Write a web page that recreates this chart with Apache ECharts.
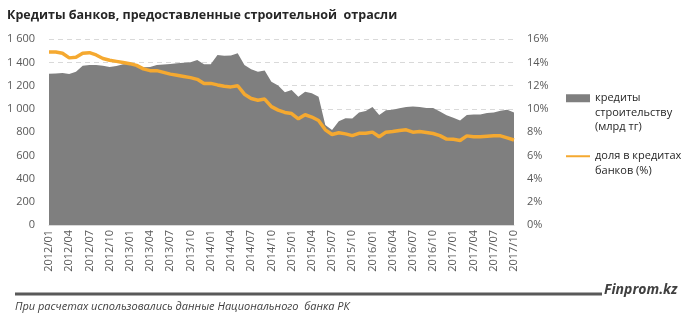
<!DOCTYPE html>
<html><head><meta charset="utf-8">
<script src="https://cdn.jsdelivr.net/npm/echarts@6/dist/echarts.min.js"></script>
<style>html,body{margin:0;padding:0;background:#fff}#c{width:685px;height:322px}</style>
</head><body><div id="c"></div>
<script>
var months = ["2012/01","2012/02","2012/03","2012/04","2012/05","2012/06","2012/07","2012/08","2012/09","2012/10","2012/11","2012/12",
"2013/01","2013/02","2013/03","2013/04","2013/05","2013/06","2013/07","2013/08","2013/09","2013/10","2013/11","2013/12",
"2014/01","2014/02","2014/03","2014/04","2014/05","2014/06","2014/07","2014/08","2014/09","2014/10","2014/11","2014/12",
"2015/01","2015/02","2015/03","2015/04","2015/05","2015/06","2015/07","2015/08","2015/09","2015/10","2015/11","2015/12",
"2016/01","2016/02","2016/03","2016/04","2016/05","2016/06","2016/07","2016/08","2016/09","2016/10","2016/11","2016/12",
"2017/01","2017/02","2017/03","2017/04","2017/05","2017/06","2017/07","2017/08","2017/09","2017/10"];
var credits = [1303,1306,1310,1300,1320,1372,1378,1378,1372,1362,1370,1385,
1388,1372,1360,1362,1378,1383,1387,1393,1399,1402,1422,1384,
1384,1464,1459,1460,1479,1378,1341,1321,1332,1234,1203,1143,
1163,1105,1148,1136,1105,861,818,894,919,917,970,982,
1016,947,989,994,1005,1016,1022,1017,1008,1008,978,946,
924,901,948,951,952,965,970,985,992,970];
var share = [14.9,14.9,14.8,14.4,14.45,14.8,14.85,14.65,14.35,14.2,14.1,14.0,
13.9,13.75,13.45,13.3,13.3,13.15,13.0,12.9,12.8,12.7,12.55,12.2,
12.2,12.07,11.95,11.9,12.0,11.27,10.9,10.75,10.85,10.2,9.9,9.7,
9.6,9.15,9.5,9.3,9.0,8.2,7.8,7.95,7.85,7.7,7.9,7.9,
8.0,7.6,8.0,8.05,8.15,8.2,8.0,8.05,7.97,7.88,7.7,7.4,
7.38,7.28,7.68,7.6,7.6,7.65,7.7,7.68,7.5,7.32];
var leftTicks = [0,1600,200];
var rightTicks = [0,16,2];
var nameCredits = "кредиты\nстроительству\n(млрд тг)";
var nameShare = "доля в кредитах\nбанков (%)";
var titleText = "Кредиты банков, предоставленные строительной  отрасли";
var footText = "При расчетах использовались данные Национального  банка РК";
var brandText = "Finprom.kz";

var font = "'Open Sans', 'Noto Sans', sans-serif";
var chart = echarts.init(document.getElementById('c'), null, {renderer:'canvas'});
chart.setOption({
  animation:false,
  textStyle:{fontFamily:font},
  title:{text:titleText,left:2,top:4,textStyle:{fontSize:12.5,fontWeight:'bold',color:'#262626',fontFamily:font}},
  grid:{left:49,right:171,top:39.3,bottom:97,containLabel:false},
  legend:{
    orient:'vertical',left:560,top:57,itemWidth:24,itemHeight:8,itemGap:0,
    textStyle:{fontSize:11,color:'#262626',lineHeight:14.5,fontFamily:font},
    formatter:function(n){ return n===nameCredits ? "\n\n"+n : "\n"+n; },
    data:[{name:nameCredits,icon:'rect'},{name:nameShare,itemStyle:{opacity:0}}]
  },
  xAxis:{type:'category',data:months,boundaryGap:false,
    axisLine:{lineStyle:{color:'#d9d9d9'}},axisTick:{show:false},
    axisLabel:{interval:2,rotate:90,fontSize:11,color:'#595959',margin:5}},
  yAxis:[
    {type:'value',min:leftTicks[0],max:leftTicks[1],interval:leftTicks[2],
     axisLine:{show:false},axisTick:{show:false},
     splitLine:{lineStyle:{color:'#d9d9d9',type:[5,4]}},
     axisLabel:{fontSize:11,color:'#595959',margin:14,formatter:function(v){return String(v).replace(/\B(?=(\d{3})+(?!\d))/g,' ');}}},
    {type:'value',min:rightTicks[0],max:rightTicks[1],interval:rightTicks[2],
     axisLine:{show:false},axisTick:{show:false},splitLine:{show:false},
     axisLabel:{fontSize:11,color:'#595959',margin:13,formatter:'{value}%'}}
  ],
  series:[
    {name:nameCredits,type:'line',data:credits,symbol:'none',yAxisIndex:0,
     color:'#7f7f7f',lineStyle:{width:0},areaStyle:{color:'#7f7f7f',opacity:1}},
    {name:nameShare,type:'line',data:share,symbol:'none',yAxisIndex:1,
     color:'#f5a930',lineStyle:{width:3.5,color:'#f5a930'}}
  ],
  graphic:[
    {type:'rect',shape:{x:15,y:292.5,width:587,height:3},style:{fill:'#595959'}},
    {type:'text',left:604,top:283,style:{text:brandText,font:'italic bold 14px '+font,fill:'#404040'}},
    {type:'text',left:15,top:301,style:{text:footText,font:'italic 11px '+font,fill:'#404040'}}
  ]
});
</script></body></html>
